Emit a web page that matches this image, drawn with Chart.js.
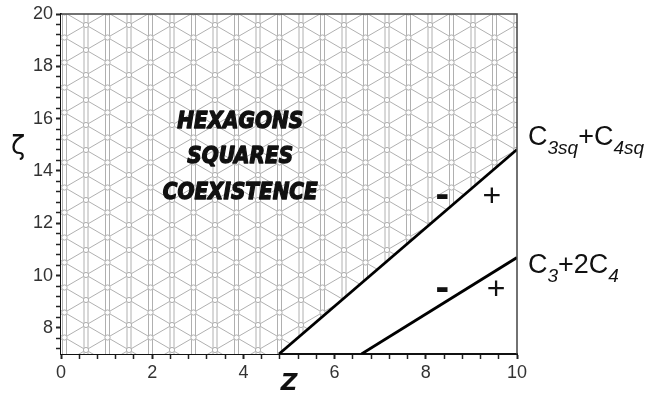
<!DOCTYPE html>
<html>
<head>
<meta charset="utf-8">
<script src="https://cdn.jsdelivr.net/npm/chart.js@4"></script>
<style>
  body { margin: 0; background: #fff; }
  canvas { display: block; }
</style>
</head>
<body>
<canvas id="phase-chart" width="649" height="398"></canvas>
<script>
// axis ticks
const zTicks = [0, 2, 4, 6, 8, 10];
const zetaTicks = [8, 10, 12, 14, 16, 18, 20];

// boundary C3sq + C4sq
const c3sqZ = [4.78, 10];
const c3sqZeta = [7, 14.82];
// boundary C3 + 2C4
const c3Z = [6.59, 10];
const c3Zeta = [7, 10.69];
// coexistence region: bottom edge, then up along the first boundary
const hexZ = [0, 4.78, 10];
const hexZeta = [7, 7, 14.82];

const toPoints = (xs, ys) => xs.map((x, i) => ({ x: x, y: ys[i] }));

// triangular lattice hatch
const makeHatch = () => {
    const W = 43, H = 25;
    const c = document.createElement('canvas');
    c.width = W; c.height = H;
    const g = c.getContext('2d');
    g.fillStyle = '#fff';
    g.fillRect(0, 0, W, H);
    g.strokeStyle = '#b0b0b0';
    g.lineWidth = 1;
    const line = (x1, y1, x2, y2) => { g.beginPath(); g.moveTo(x1, y1); g.lineTo(x2, y2); g.stroke(); };
    [0, W / 2, W].forEach(cx => {
        line(cx - 2, 0, cx - 2, H);
        line(cx + 2, 0, cx + 2, H);
    });
    [-1, 0, 1].forEach(k => {
        line(0, k * H, W, k * H + H);
        line(0, k * H + H, W, k * H);
    });
    [[0, 0], [W, 0], [0, H], [W, H], [W / 2, H / 2]].forEach(([x, y]) => {
        g.beginPath();
        g.arc(x, y, 2.6, 0, Math.PI * 2);
        g.fillStyle = '#fff';
        g.fill();
        g.stroke();
    });
    return g.createPattern(c, 'repeat');
};

// every 0.4 as a minor tick, majors get labels
const minorTicks = (min, max) => {
    const out = [];
    for (let k = Math.ceil(min / 0.4 - 1e-9); k * 0.4 <= max + 1e-9; k++) {
        out.push({ value: Math.round(k * 0.4 * 1000) / 1000 });
    }
    return out;
};
const isMajor = (v, list) => list.some(t => Math.abs(t - v) < 1e-6);

const drawText = (ctx, text, x, y, font, thick, stretch) => {
    ctx.save();
    ctx.translate(x, y);
    ctx.scale(1, stretch || 1);
    ctx.font = font;
    ctx.textAlign = 'center';
    ctx.fillText(text, 0, 0);
    if (thick) {
        ctx.lineWidth = thick;
        ctx.strokeStyle = ctx.fillStyle;
        ctx.lineJoin = 'round';
        ctx.strokeText(text, 0, 0);
    }
    ctx.restore();
};

// formula with subscripts, parts = [text, isSub]
const drawFormula = (ctx, parts, x, y) => {
    ctx.textAlign = 'left';
    ctx.textBaseline = 'alphabetic';
    parts.forEach(([t, sub]) => {
        ctx.font = sub ? 'italic 19px "Liberation Sans"' : '27px "Liberation Sans"';
        ctx.fillText(t, x, sub ? y + 9 : y);
        x += ctx.measureText(t).width;
    });
};

const annotations = {
    id: 'annotations',
    afterDatasetsDraw(chart) {
        const { ctx, chartArea, scales: { x, y } } = chart;
        ctx.save();
        // frame on top and right
        ctx.strokeStyle = '#444';
        ctx.lineWidth = 1.5;
        ctx.beginPath();
        ctx.moveTo(chartArea.left, chartArea.top);
        ctx.lineTo(chartArea.right, chartArea.top);
        ctx.lineTo(chartArea.right, chartArea.bottom);
        ctx.stroke();

        ctx.fillStyle = '#111';
        ctx.textBaseline = 'middle';
        const big = 'bold italic 20px "DejaVu Sans"';
        drawText(ctx, 'HEXAGONS', x.getPixelForValue(3.93), y.getPixelForValue(15.86), big, 1.2, 1.15);
        drawText(ctx, 'SQUARES', x.getPixelForValue(3.93), y.getPixelForValue(14.52), big, 1.2, 1.15);
        drawText(ctx, 'COEXISTENCE', x.getPixelForValue(3.93), y.getPixelForValue(13.17), big, 1.2, 1.15);

        const minus = 'bold 34px "DejaVu Sans"';
        const plus = '32px "Liberation Sans"';
        drawText(ctx, '-', x.getPixelForValue(8.36), y.getPixelForValue(12.98), minus);
        drawText(ctx, '+', x.getPixelForValue(9.45), y.getPixelForValue(12.98), plus);
        drawText(ctx, '-', x.getPixelForValue(8.36), y.getPixelForValue(9.45), minus);
        drawText(ctx, '+', x.getPixelForValue(9.54), y.getPixelForValue(9.45), plus);

        drawText(ctx, 'ζ', 18, y.getPixelForValue(14.9), '26px "DejaVu Sans"');

        drawFormula(ctx, [['C', false], ['3sq', true], ['+', false], ['C', false], ['4sq', true]],
            chartArea.right + 11, y.getPixelForValue(15.01));
        drawFormula(ctx, [['C', false], ['3', true], ['+2', false], ['C', false], ['4', true]],
            chartArea.right + 11, y.getPixelForValue(10.11));
        ctx.restore();
    }
};

const tickFont = { family: '"Liberation Sans"', size: 18 };

new Chart(document.querySelector('#phase-chart').getContext('2d'), {
    type: 'scatter',
    data: {
        datasets: [{
            data: toPoints(hexZ, hexZeta),
            order: 2,
            showLine: true,
            fill: 'end',
            backgroundColor: makeHatch(),
            borderWidth: 0,
            pointRadius: 0
        }, {
            data: toPoints(c3sqZ, c3sqZeta),
            order: 0,
            showLine: true,
            borderColor: '#000',
            borderWidth: 2.8,
            pointRadius: 0
        }, {
            data: toPoints(c3Z, c3Zeta),
            order: 0,
            showLine: true,
            borderColor: '#000',
            borderWidth: 2.8,
            pointRadius: 0
        }]
    },
    options: {
        responsive: false,
        animation: false,
        devicePixelRatio: 1,
        layout: { padding: { top: 14, right: 132, left: 0, bottom: 0 } },
        plugins: { legend: { display: false }, tooltip: { enabled: false } },
        scales: {
            x: {
                type: 'linear',
                min: 0,
                max: 10,
                afterBuildTicks: s => { s.ticks = minorTicks(0, 10); },
                afterFit: s => { s.height = 44; },
                ticks: {
                    autoSkip: false,
                    maxRotation: 0,
                    padding: 3,
                    color: '#333',
                    font: tickFont,
                    callback: v => isMajor(v, zTicks) ? String(Math.round(v)) : ''
                },
                grid: {
                    drawOnChartArea: false,
                    tickLength: 5,
                    tickColor: '#222',
                    tickWidth: c => isMajor(c.tick.value, zTicks) ? 2 : 1.5
                },
                border: { color: '#111', width: 2 },
                title: {
                    display: true,
                    text: 'Z',
                    color: '#111',
                    padding: { top: 0, bottom: 0 },
                    font: { family: '"DejaVu Sans"', size: 23, style: 'italic', weight: 'bold' }
                }
            },
            y: {
                type: 'linear',
                min: 7,
                max: 20,
                afterBuildTicks: s => { s.ticks = minorTicks(7, 20); },
                afterFit: s => { s.width = 61; },
                ticks: {
                    autoSkip: false,
                    padding: 3,
                    color: '#333',
                    font: tickFont,
                    callback: v => isMajor(v, zetaTicks) ? String(Math.round(v)) : ''
                },
                grid: {
                    drawOnChartArea: false,
                    tickLength: 5,
                    tickColor: '#222',
                    tickWidth: c => isMajor(c.tick.value, zetaTicks) ? 2 : 1.5
                },
                border: { color: '#111', width: 2 }
            }
        }
    },
    plugins: [annotations]
});
</script>
</body>
</html>
